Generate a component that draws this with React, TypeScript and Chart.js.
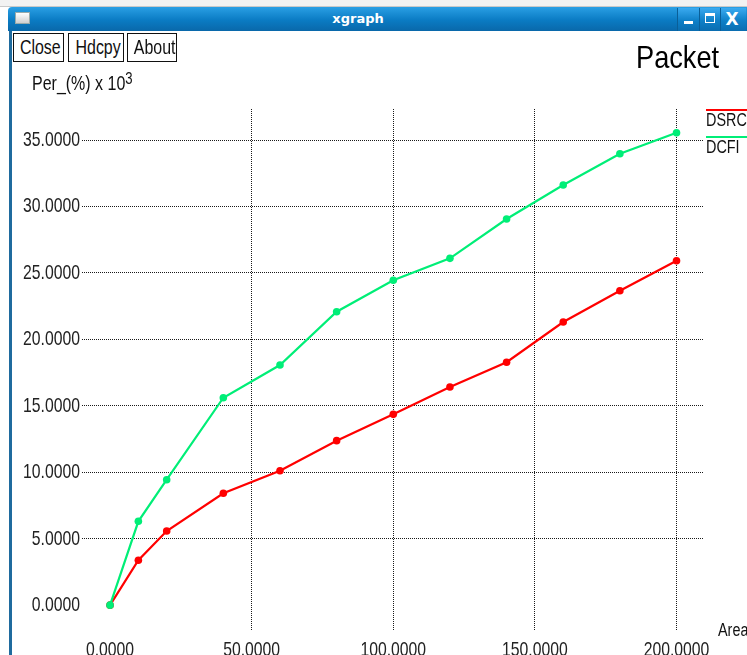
import React, { useEffect, useRef } from "react";
import { Chart, registerables } from "chart.js";

Chart.register(...registerables);

// ---- data ----
const areaValues = [0, 10, 20, 40, 60, 80, 100, 120, 140, 160, 180, 200];
const dsrcValues = [0, 3.38, 5.58, 8.42, 10.12, 12.38, 14.36, 16.42, 18.28, 21.31, 23.66, 25.92];
const dcfiValues = [0, 6.31, 9.44, 15.61, 18.07, 22.08, 24.45, 26.1, 29.06, 31.62, 33.97, 35.55];
const xTickValues = [0, 50, 100, 150, 200];
const yTickValues = [0, 5, 10, 15, 20, 25, 30, 35];
const seriesNames = ["DSRC", "DCFI"];
const seriesColors = ["#ff0000", "#00ee77"];

const SANS = "'Liberation Sans', Arial, sans-serif";
const TICK_SX = 0.75;

// Condenses the tick label glyphs horizontally around each label's own anchor
const condensePlugin = {
  id: "condenseTicks",
  beforeDraw(chart: any) {
    const ctx = chart.ctx;
    const orig = CanvasRenderingContext2D.prototype.fillText;
    ctx.fillText = function (text: string, x: number, y: number, maxWidth?: number) {
      this.save();
      this.translate(x, y);
      this.scale(TICK_SX, 1);
      if (maxWidth !== undefined && maxWidth !== null) orig.call(this, text, 0, 0, maxWidth / TICK_SX);
      else orig.call(this, text, 0, 0);
      this.restore();
    };
  },
  beforeDatasetsDraw(chart: any) {
    delete chart.ctx.fillText;
  },
};

export default function App() {
  const canvasRef = useRef<HTMLCanvasElement | null>(null);

  useEffect(() => {
    const canvas = canvasRef.current;
    if (!canvas) return;
    const gridColor = (ctx: any) => (ctx.tick && ctx.tick.value === 0 ? "rgba(0,0,0,0)" : "#1a1a1a");
    const chart = new Chart(canvas, {
      type: "line",
      data: {
        datasets: [
          {
            label: seriesNames[0],
            data: areaValues.map((x, i) => ({ x, y: dsrcValues[i] })),
            borderColor: seriesColors[0],
            backgroundColor: seriesColors[0],
            pointBackgroundColor: seriesColors[0],
            pointBorderColor: seriesColors[0],
            borderWidth: 2.2,
            pointRadius: 3.8,
            pointBorderWidth: 0,
            tension: 0,
            order: 1,
          },
          {
            label: seriesNames[1],
            data: areaValues.map((x, i) => ({ x, y: dcfiValues[i] })),
            borderColor: seriesColors[1],
            backgroundColor: seriesColors[1],
            pointBackgroundColor: seriesColors[1],
            pointBorderColor: seriesColors[1],
            borderWidth: 2.2,
            pointRadius: 3.8,
            pointBorderWidth: 0,
            tension: 0,
            order: 0,
          },
        ],
      },
      options: {
        animation: false,
        responsive: false,
        devicePixelRatio: 1,
        layout: { padding: { left: 0, top: 109, right: 43, bottom: 0 } },
        plugins: { legend: { display: false }, tooltip: { enabled: false }, title: { display: false } },
        scales: {
          x: {
            type: "linear",
            min: -9.9,
            max: 209.7,
            afterBuildTicks: (axis: any) => {
              axis.ticks = xTickValues.map((v) => ({ value: v }));
            },
            afterFit: (scale: any) => {
              scale.height = 25;
            },
            grid: { color: gridColor, lineWidth: 1, drawTicks: false, borderDash: [1, 1] } as any,
            border: { display: false, dash: [1, 1] },
            ticks: {
              padding: 8,
              maxRotation: 0,
              autoSkip: false,
              color: "#222",
              font: { family: SANS, size: 21 },
              callback: (v: any) => Number(v).toFixed(4),
            },
          },
          y: {
            type: "linear",
            min: -1.87,
            max: 37.34,
            afterBuildTicks: (axis: any) => {
              axis.ticks = yTickValues.map((v) => ({ value: v }));
            },
            afterFit: (scale: any) => {
              scale.width = 82;
            },
            grid: { color: gridColor, lineWidth: 1, drawTicks: false, borderDash: [1, 1] } as any,
            border: { display: false, dash: [1, 1] },
            ticks: {
              padding: 2,
              autoSkip: false,
              color: "#222",
              font: { family: SANS, size: 21 },
              callback: (v: any) => Number(v).toFixed(4),
            },
          },
        },
      },
      plugins: [condensePlugin],
    });
    return () => chart.destroy();
  }, []);

  const abs = (s: React.CSSProperties): React.CSSProperties => ({ position: "absolute", ...s });

  const txt = (left: number, top: number, size: number, sx: number, content: React.ReactNode, color = "#111") => (
    <div
      style={abs({
        left,
        top,
        fontFamily: SANS,
        fontSize: size,
        lineHeight: `${size}px`,
        color,
        whiteSpace: "nowrap",
        transform: `scaleX(${sx})`,
        transformOrigin: "0 0",
      })}
    >
      {content}
    </div>
  );

  const btn = (left: number, width: number, text: string) => (
    <div
      style={abs({
        left,
        top: 33,
        width,
        height: 29,
        boxSizing: "border-box",
        border: "1.5px solid #111",
        background: "#fff",
        textAlign: "center",
        overflow: "hidden",
      })}
    >
      <div
        style={{
          position: "absolute",
          left: 0,
          right: 0,
          top: 2,
          fontFamily: SANS,
          fontSize: 21,
          lineHeight: "21px",
          color: "#111",
          whiteSpace: "nowrap",
          transform: "scaleX(0.76)",
          transformOrigin: "50% 0",
        }}
      >
        {text}
      </div>
    </div>
  );

  return (
    <div
      style={{
        position: "fixed",
        left: 0,
        top: 0,
        width: 747,
        height: 655,
        overflow: "hidden",
        background: "#fff",
      }}
    >
      <canvas ref={canvasRef} width={747} height={655} style={abs({ left: 0, top: 0, width: 747, height: 655 })} />
      {/* top strip */}
      <div style={abs({ left: 0, top: 0, width: 747, height: 7, background: "#f2f2f2", borderBottom: "1px solid #c9c9c9", boxSizing: "border-box" })} />
      {/* title bar */}
      <div
        style={abs({
          left: 8,
          top: 7,
          width: 739,
          height: 24,
          borderTopLeftRadius: 4,
          background: "linear-gradient(#2a9fe4, #0a7bc3 55%, #0968aa)",
        })}
      />
      {/* window icon */}
      <div style={abs({ left: 15, top: 12, width: 15, height: 12, background: "linear-gradient(#ffffff, #cfcfcf)", border: "1px solid #9aa", boxSizing: "border-box" })} />
      <div style={abs({ left: 298, top: 8, width: 120, height: 22, lineHeight: "22px", textAlign: "center", color: "#fff", fontWeight: "bold", fontFamily: "'DejaVu Sans', sans-serif", fontSize: 13 })}>
        xgraph
      </div>
      {/* window controls */}
      <div style={abs({ left: 677, top: 8, width: 69, height: 23, background: "linear-gradient(#3aaaf0, #0e80c8 55%, #0a6db0)" })} />
      <div style={abs({ left: 699, top: 8, width: 1, height: 23, background: "#0a5f98" })} />
      <div style={abs({ left: 720, top: 8, width: 1, height: 23, background: "#0a5f98" })} />
      <div style={abs({ left: 677, top: 8, width: 1, height: 23, background: "#0a5f98" })} />
      <div style={abs({ left: 684, top: 21, width: 9, height: 3, background: "#fff" })} />
      <div style={abs({ left: 705, top: 13, width: 10, height: 10, border: "1.5px solid #fff", borderTopWidth: 3, boxSizing: "border-box" })} />
      <div style={abs({ left: 722, top: 8, width: 20, height: 23, lineHeight: "23px", textAlign: "center", color: "#fff", fontWeight: "bold", fontFamily: "'DejaVu Sans', sans-serif", fontSize: 17 })}>
        X
      </div>
      {/* left window border */}
      <div style={abs({ left: 9, top: 31, width: 3, height: 624, background: "#1f6b9e" })} />
      {/* buttons */}
      {btn(13, 51, "Close")}
      {btn(68, 56, "Hdcpy")}
      {btn(127, 50, "About")}
      {/* titles */}
      {txt(636, 41, 32, 0.85, "Packet", "#000")}
      {txt(
        32,
        74,
        19.5,
        0.82,
        <>
          Per_(%) x 10
          <span style={{ position: "relative", top: -6, fontSize: 16 }}>3</span>
        </>
      )}
      {txt(718, 621, 18, 0.8, "Area")}
      {/* legend */}
      <div style={abs({ left: 706, top: 109, width: 41, height: 1.5, background: seriesColors[0] })} />
      {txt(706, 110.6, 18, 0.8, seriesNames[0])}
      <div style={abs({ left: 706, top: 136, width: 41, height: 1.5, background: seriesColors[1] })} />
      {txt(706, 138, 18, 0.8, seriesNames[1])}
    </div>
  );
}
